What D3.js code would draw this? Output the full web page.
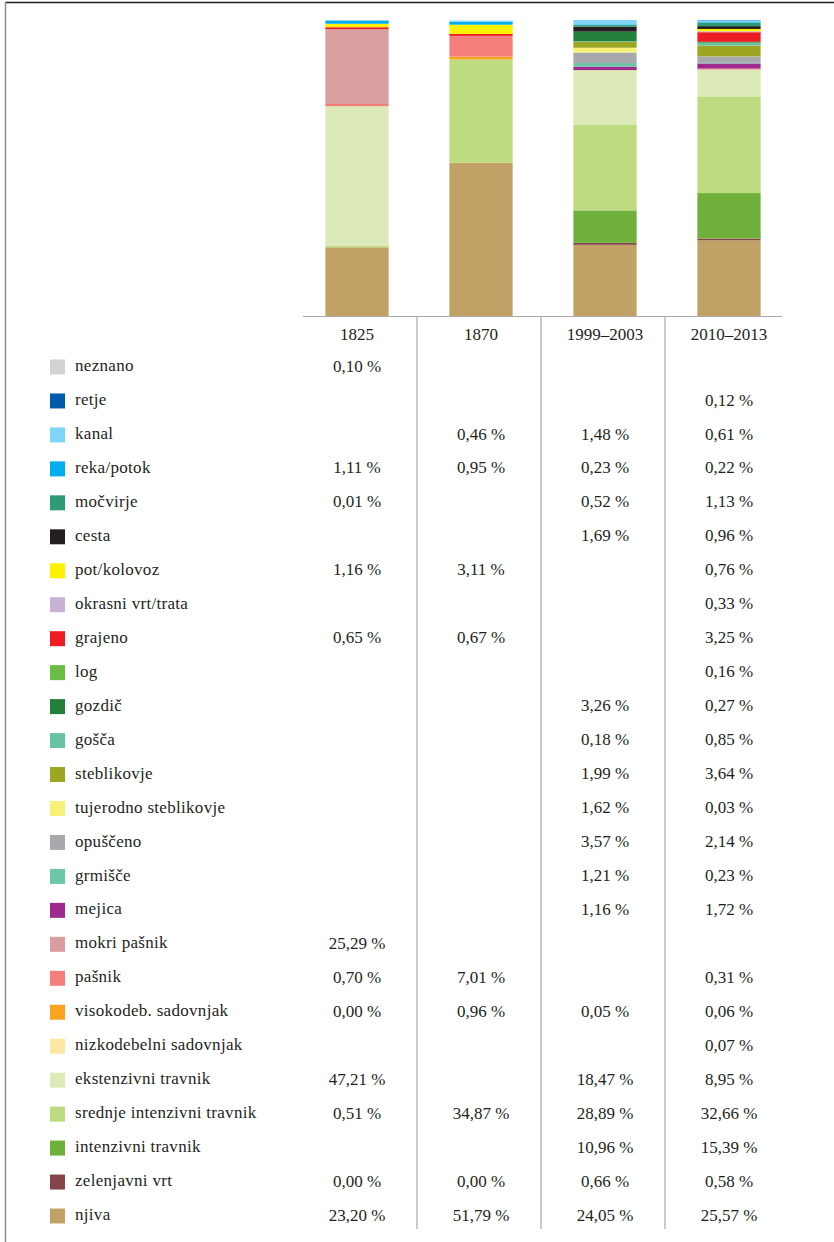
<!DOCTYPE html>
<html>
<head>
<meta charset="utf-8">
<script src="https://cdn.jsdelivr.net/npm/d3@7"></script>
<style>
  body { margin: 0; background: #fff; }
  svg text { font-family: "Liberation Serif", "DejaVu Serif", serif; fill: #231f20; }
</style>
</head>
<body>
<div id="chart"></div>
<script>
const periods = ["1825", "1870", "1999–2003", "2010–2013"];

const categories = [
    "neznano", "retje", "kanal", "reka/potok", "močvirje", "cesta", "pot/kolovoz",
    "okrasni vrt/trata", "grajeno", "log", "gozdič", "gošča", "steblikovje",
    "tujerodno steblikovje", "opuščeno", "grmišče", "mejica", "mokri pašnik", "pašnik",
    "visokodeb. sadovnjak", "nizkodebelni sadovnjak", "ekstenzivni travnik",
    "srednje intenzivni travnik", "intenzivni travnik", "zelenjavni vrt", "njiva"
];

const colors = [
    "#d1d2d4", "#005baa", "#80d4f6", "#00aeef", "#2e9b77", "#231f20", "#fff200",
    "#c9b1d6", "#ed1c24", "#6cbd45", "#22803a", "#66c4a4", "#9ca623",
    "#f8f177", "#a7a9ac", "#6cc7a6", "#9e2a8e", "#d99e9e", "#f37e7a",
    "#f7a51f", "#ffe6a5", "#dce9b8",
    "#bedb7f", "#6fb03c", "#84454a", "#c2a166"
];

// values per period, in the same order as categories (null = empty cell)
const values1825 = [0.10, null, null, 1.11, 0.01, null, 1.16, null, 0.65, null, null, null, null,
    null, null, null, null, 25.29, 0.70, 0.00, null, 47.21, 0.51, null, 0.00, 23.20];
const values1870 = [null, null, 0.46, 0.95, null, null, 3.11, null, 0.67, null, null, null, null,
    null, null, null, null, null, 7.01, 0.96, null, null, 34.87, null, 0.00, 51.79];
const values1999 = [null, null, 1.48, 0.23, 0.52, 1.69, null, null, null, null, 3.26, 0.18, 1.99,
    1.62, 3.57, 1.21, 1.16, null, null, 0.05, null, 18.47, 28.89, 10.96, 0.66, 24.05];
const values2010 = [null, 0.12, 0.61, 0.22, 1.13, 0.96, 0.76, 0.33, 3.25, 0.16, 0.27, 0.85, 3.64,
    0.03, 2.14, 0.23, 1.72, null, 0.31, 0.06, 0.07, 8.95, 32.66, 15.39, 0.58, 25.57];

const allValues = [values1825, values1870, values1999, values2010];

const width = 834, height = 1242;
const fontSize = "17px";

const svg = d3.select("#chart")
              .append("svg")
              .attr("width", width)
              .attr("height", height);

// frame
svg.append("line")
   .attr("x1", 5).attr("x2", width)
   .attr("y1", 2.5).attr("y2", 2.5)
   .attr("stroke", "#231f20")
   .attr("stroke-width", 1.5);
svg.append("line")
   .attr("x1", 5.5).attr("x2", 5.5)
   .attr("y1", 2).attr("y2", height)
   .attr("stroke", "#8c8c8c")
   .attr("stroke-width", 1.5);

const x = d3.scaleBand()
            .domain(periods)
            .range([295, 791])
            .paddingInner(0.49)
            .paddingOuter(0.245);

const y = d3.scaleLinear()
            .domain([0, 100])
            .range([316, 20]);

// stacked bars
const tableRows = periods.map(function (p, i) {
    const row = {period: p};
    categories.forEach(function (c, j) {
        row[c] = allValues[i][j] || 0;
    });
    return row;
});

const color = d3.scaleOrdinal().domain(categories).range(colors);

const stack = d3.stack().keys(categories.slice().reverse());
const series = stack(tableRows);

svg.append("g")
   .selectAll("g")
   .data(series)
   .enter()
   .append("g")
   .attr("fill", function (d) {
       return color(d.key);
   })
   .selectAll("rect")
   .data(function (d) {
       return d;
   })
   .enter()
   .append("rect")
   .attr("x", function (d) {
       return x(d.data.period);
   })
   .attr("y", function (d) {
       return y(d[1]);
   })
   .attr("width", x.bandwidth())
   .attr("height", function (d) {
       return y(d[0]) - y(d[1]);
   });

// baseline
svg.append("line")
   .attr("x1", 303).attr("x2", 782)
   .attr("y1", y(0) + 0.5).attr("y2", y(0) + 0.5)
   .attr("stroke", "#a9a9a9")
   .attr("stroke-width", 1);

// rows of the table
const row = d3.scalePoint()
              .domain(categories)
              .range([366, 1215]);

// column separators
svg.selectAll("line.sep")
   .data(periods.slice(1))
   .enter()
   .append("line")
   .attr("class", "sep")
   .attr("x1", function (d) {
       return x(d) - x.step() * x.paddingInner() / 2 - 2;
   })
   .attr("x2", function (d) {
       return x(d) - x.step() * x.paddingInner() / 2 - 2;
   })
   .attr("y1", y(0))
   .attr("y2", 1229)
   .attr("stroke", "#a9a9a9")
   .attr("stroke-width", 1.2);

// column headers
svg.selectAll("text.header")
   .data(periods)
   .enter()
   .append("text")
   .attr("class", "header")
   .attr("x", function (d) {
       return x(d) + x.bandwidth() / 2;
   })
   .attr("y", 334)
   .attr("dy", "0.33em")
   .attr("text-anchor", "middle")
   .style("font-size", fontSize)
   .text(function (d) {
       return d;
   });

// legend
const legend = svg.append("g");
legend.selectAll("rect")
      .data(categories)
      .enter()
      .append("rect")
      .attr("x", 50)
      .attr("y", function (d) {
          return row(d) - 6.5;
      })
      .attr("width", 15)
      .attr("height", 15)
      .attr("fill", function (d) {
          return color(d);
      });
legend.selectAll("text")
      .data(categories)
      .enter()
      .append("text")
      .attr("x", 75)
      .attr("y", function (d) {
          return row(d);
      })
      .attr("dy", "0.3em")
      .style("font-size", fontSize)
      .style("letter-spacing", "0.3px")
      .text(function (d) {
          return d;
      });

// values
const fmt = function (v) {
    return d3.format(".2f")(v).replace(".", ",") + " %";
};

periods.forEach(function (p, i) {
    svg.append("g")
       .selectAll("text")
       .data(categories.map(function (c, j) {
           return {cat: c, value: allValues[i][j]};
       }).filter(function (d) {
           return d.value !== null;
       }))
       .enter()
       .append("text")
       .attr("x", x(p) + x.bandwidth() / 2)
       .attr("y", function (d) {
           return row(d.cat);
       })
       .attr("dy", "0.33em")
       .attr("text-anchor", "middle")
       .style("font-size", fontSize)
       .text(function (d) {
           return fmt(d.value);
       });
});
</script>
</body>
</html>
